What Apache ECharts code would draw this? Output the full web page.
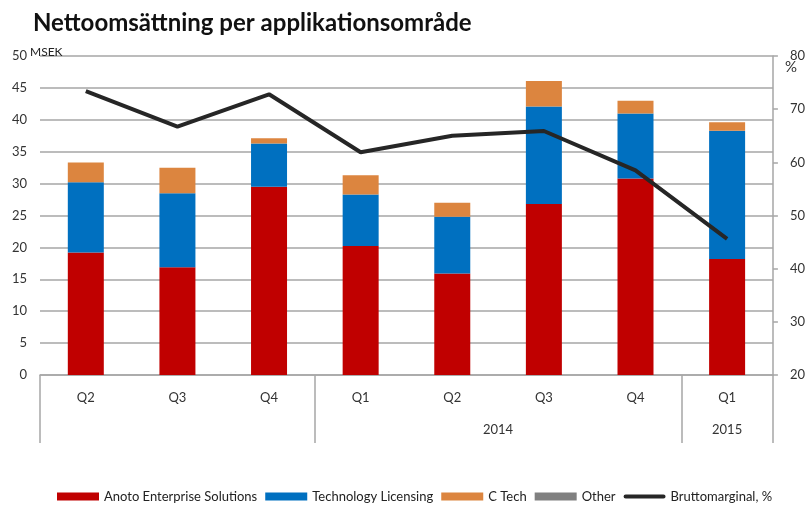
<!DOCTYPE html>
<html><head><meta charset="utf-8">
<script src="https://cdn.jsdelivr.net/npm/echarts@6/dist/echarts.min.js"></script>
<style>html,body{margin:0;padding:0;background:#fff}#c{width:808px;height:507px}</style>
</head><body><div id="c"></div>
<script>
const quarters = ['Q2','Q3','Q4','Q1','Q2','Q3','Q4','Q1'];
const yearLabels = ['', '2014', '2015'];
const yearSpans = [3, 4, 1];
const anoto = [19.2, 16.9, 29.5, 20.2, 15.9, 26.8, 30.8, 18.2];
const techLic = [11.0, 11.6, 6.8, 8.1, 8.9, 15.3, 10.2, 20.1];
const cTech = [3.1, 4.0, 0.8, 3.0, 2.2, 4.0, 2.0, 1.3];
const other = [0, 0, 0, 0, 0, 0, 0, 0];
const brutto = [73.4, 66.7, 72.8, 61.9, 65.0, 65.9, 58.5, 45.6];
const leftTicks = {min: 0, max: 50, interval: 5};
const rightTicks = {min: 20, max: 80, interval: 10};

// group boundaries and centers for the year row
const bounds = [0];
yearSpans.forEach(s => bounds.push(bounds[bounds.length - 1] + s));
const centers = yearSpans.map((s, i) => bounds[i] + s / 2);

const font = 'Lato';
const txt = '#333';
const gridCol = '#a6a6a6';

const chart = echarts.init(document.getElementById('c'));
chart.setOption({
  animation: false,
  textStyle: {fontFamily: font},
  title: {
    text: 'Nettoomsättning per applikationsområde',
    left: 28, top: 6,
    textStyle: {fontFamily: font, fontSize: 24, fontWeight: 'bold', color: '#111'}
  },
  legend: {
    bottom: -1, left: 52,
    itemWidth: 42, itemHeight: 8, itemGap: 8,
    textStyle: {fontFamily: font, fontSize: 13, color: '#222'},
    data: [
      {name: 'Anoto Enterprise Solutions', icon: 'rect'},
      {name: 'Technology Licensing', icon: 'rect'},
      {name: 'C Tech', icon: 'rect'},
      {name: 'Other', icon: 'rect'},
      {name: 'Bruttomarginal, %', icon: 'path://M2,0h36a2,2 0 0 1 0,4h-36a2,2 0 0 1 0,-4z'}
    ]
  },
  grid: {left: 40, right: 34, top: 56, bottom: 132},
  xAxis: [
    {
      type: 'category', data: quarters,
      axisLine: {lineStyle: {color: gridCol, width: 1.5}},
      axisTick: {show: false},
      axisLabel: {color: txt, fontSize: 13, margin: 16, fontFamily: font}
    },
    {
      type: 'value', position: 'bottom', min: 0, max: quarters.length,
      axisLine: {show: false},
      splitLine: {show: false},
      axisTick: {show: true, length: 68, customValues: bounds, lineStyle: {color: gridCol, width: 1.5}},
      axisLabel: {
        show: true, customValues: centers, margin: 48, color: txt, fontSize: 13, fontFamily: font,
        formatter: v => { const i = centers.indexOf(v); return i >= 0 ? yearLabels[i] : ''; }
      }
    }
  ],
  yAxis: [
    {
      type: 'value', min: leftTicks.min, max: leftTicks.max, interval: leftTicks.interval,
      name: 'MSEK', nameLocation: 'end', nameGap: 10, nameMoveOverlap: false,
      nameTextStyle: {color: '#222', fontSize: 12, align: 'left', verticalAlign: 'top', padding: [0, 0, 0, -10], fontFamily: font},
      axisLine: {show: false}, axisTick: {show: false},
      axisLabel: {color: txt, fontSize: 13, margin: 13, fontFamily: font},
      splitLine: {lineStyle: {color: gridCol, width: 1.5}}
    },
    {
      type: 'value', min: rightTicks.min, max: rightTicks.max, interval: rightTicks.interval,
      name: '%', nameLocation: 'end', nameGap: -4, nameMoveOverlap: false,
      nameTextStyle: {color: txt, fontSize: 15, align: 'left', verticalAlign: 'top', padding: [0, 0, 0, 12], fontFamily: font},
      axisLine: {show: true, lineStyle: {color: gridCol, width: 1.5}},
      axisTick: {show: true, length: 5, lineStyle: {color: gridCol, width: 1.5}},
      axisLabel: {color: txt, fontSize: 13, margin: 17, fontFamily: font},
      splitLine: {show: false}
    }
  ],
  series: [
    {name: 'Anoto Enterprise Solutions', type: 'bar', stack: 's', barWidth: 36, data: anoto, itemStyle: {color: '#C00000'}},
    {name: 'Technology Licensing', type: 'bar', stack: 's', barWidth: 36, data: techLic, itemStyle: {color: '#0070C0'}},
    {name: 'C Tech', type: 'bar', stack: 's', barWidth: 36, data: cTech, itemStyle: {color: '#DC853F'}},
    {name: 'Other', type: 'bar', stack: 's', barWidth: 36, data: other, itemStyle: {color: '#808080'}},
    {name: 'Bruttomarginal, %', type: 'line', yAxisIndex: 1, data: brutto, showSymbol: false, symbol: 'none',
     lineStyle: {color: '#262626', width: 4}, itemStyle: {color: '#262626'}}
  ]
});
</script></body></html>
